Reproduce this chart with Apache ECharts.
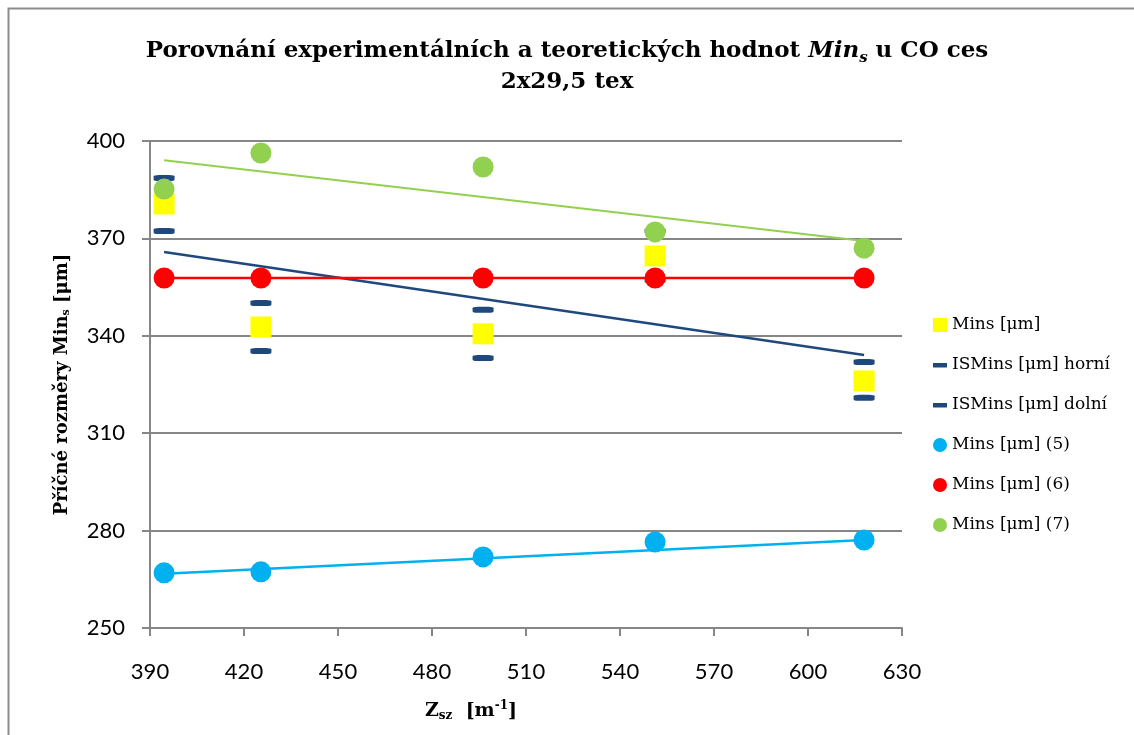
<!DOCTYPE html>
<html>
<head>
<meta charset="utf-8">
<script src="https://cdn.jsdelivr.net/npm/echarts@6/dist/echarts.min.js"></script>
<style>
  html, body { margin: 0; padding: 0; background: #fff; }
  #chart { width: 1134px; height: 735px; }
</style>
</head>
<body>
<div id="chart"></div>
<script>
// hodnoty
const zsz = [394.5, 425.4, 496.3, 551.2, 617.9];
const mins = [380.6, 342.7, 340.6, 364.6, 326.1];
const isMinsHorni = [388.6, 350.1, 348.0, 372.3, 331.9];
const isMinsDolni = [372.3, 335.3, 333.2, 357.2, 320.9];
const mins5 = [267.0, 267.3, 271.9, 276.5, 277.1];
const mins6 = [357.8, 357.8, 357.8, 357.8, 357.8];
const mins7 = [385.2, 396.3, 392.0, 372.0, 367.0];

// spojnice trendu (koncové body)
const trendX = [394.5, 617.9];
const trendMins = [365.8, 334.1];
const trendMins5 = [266.7, 277.1];
const trendMins7 = [394.1, 369.2];

const legendNames = ['Mins [μm]', 'ISMins [μm] horní', 'ISMins [μm] dolní',
    'Mins [μm] (5)', 'Mins [μm] (6)', 'Mins [μm] (7)'];

function pairs(xs, ys) {
    return xs.map(function (x, i) { return [x, ys[i]]; });
}

const serifFont = '"DejaVu Serif", "Liberation Serif", serif';
const sansFont = 'Lato, "Open Sans", sans-serif';
const dashIcon = 'path://M0,0 M0,5h14v4.5h-14z M14,14';

let myChart = echarts.init(document.getElementById('chart'));
let option = {
    animation: false,
    title: {
        text: '{b|Porovnání experimentálních a teoretických hodnot }{i|Min}{sub|s}{b| u CO ces}\n{b|2x29,5 tex}',
        left: 'center',
        top: 31,
        textStyle: {
            rich: {
                b: { fontFamily: serifFont, fontWeight: 'bold', fontSize: 23, color: '#000', lineHeight: 31 },
                i: { fontFamily: serifFont, fontWeight: 'bold', fontStyle: 'italic', fontSize: 23, color: '#000', lineHeight: 31 },
                sub: { fontFamily: serifFont, fontWeight: 'bold', fontStyle: 'italic', fontSize: 15, color: '#000', padding: [14, 0, 0, 0], lineHeight: 31 }
            }
        }
    },
    graphic: [{
        type: 'rect',
        shape: { x: 8.5, y: 8.5, width: 1300, height: 900 },
        style: { fill: null, stroke: '#8c8c8c', lineWidth: 2 },
        silent: true
    }],
    legend: {
        orient: 'vertical',
        left: 928,
        top: 310,
        itemGap: 20,
        itemWidth: 14,
        itemHeight: 14,
        textStyle: { fontFamily: serifFont, fontSize: 17, color: '#000', lineHeight: 20 },
        data: [
            { name: legendNames[0], icon: 'rect' },
            { name: legendNames[1], icon: dashIcon },
            { name: legendNames[2], icon: dashIcon },
            { name: legendNames[3], icon: 'circle' },
            { name: legendNames[4], icon: 'circle' },
            { name: legendNames[5], icon: 'circle' }
        ]
    },
    grid: { left: 150, right: 232, top: 141, bottom: 107 },
    xAxis: {
        type: 'value',
        min: 390, max: 630, interval: 30,
        name: '{b|Z}{sub|sz}{b|  [m}{sup|-1}{b|]}',
        nameLocation: 'middle',
        nameGap: 72,
        nameTextStyle: {
            padding: [0, 110, 0, 0],
            rich: {
                b: { fontFamily: serifFont, fontWeight: 'bold', fontSize: 19, color: '#000' },
                sub: { fontFamily: serifFont, fontWeight: 'bold', fontSize: 12, color: '#000', padding: [10, 0, 0, 0] },
                sup: { fontFamily: serifFont, fontWeight: 'bold', fontSize: 12, color: '#000', padding: [0, 0, 10, 0] }
            }
        },
        axisLine: { lineStyle: { color: '#868686', width: 2 } },
        axisTick: { show: true, length: 8, lineStyle: { color: '#868686', width: 2 } },
        axisLabel: { margin: 33, fontFamily: sansFont, fontSize: 22, color: '#000' },
        splitLine: { show: false }
    },
    yAxis: {
        type: 'value',
        min: 250, max: 400, interval: 30,
        name: '{b|Příčné rozměry Min}{sub|s}{b| [μm]}',
        nameLocation: 'middle',
        nameGap: 78,
        nameTextStyle: {
            rich: {
                b: { fontFamily: serifFont, fontWeight: 'bold', fontSize: 18, color: '#000' },
                sub: { fontFamily: serifFont, fontWeight: 'bold', fontSize: 11, color: '#000', padding: [8, 0, 0, 0] }
            }
        },
        axisLine: { show: true, lineStyle: { color: '#868686', width: 2 } },
        axisTick: { show: true, length: 8, lineStyle: { color: '#868686', width: 2 } },
        axisLabel: { margin: 25, fontFamily: sansFont, fontSize: 22, color: '#000' },
        splitLine: { show: true, lineStyle: { color: '#868686', width: 2 } }
    },
    series: [
        {
            name: 'trend-mins', type: 'line', data: pairs(trendX, trendMins),
            symbol: 'none', lineStyle: { color: '#1F497D', width: 2.5 }, z: 1, silent: true
        },
        {
            name: 'trend-5', type: 'line', data: pairs(trendX, trendMins5),
            symbol: 'none', lineStyle: { color: '#00B0F0', width: 2.5 }, z: 1, silent: true
        },
        {
            name: 'trend-7', type: 'line', data: pairs(trendX, trendMins7),
            symbol: 'none', lineStyle: { color: '#92D050', width: 2 }, z: 1, silent: true
        },
        {
            name: legendNames[0], type: 'scatter', data: pairs(zsz, mins),
            symbol: 'rect', symbolSize: 21, itemStyle: { color: '#FFFF00', opacity: 1 }, z: 2
        },
        {
            name: legendNames[1], type: 'scatter', data: pairs(zsz, isMinsHorni),
            symbol: 'roundRect', symbolSize: [21, 6], itemStyle: { color: '#1F497D', opacity: 1 }, z: 3
        },
        {
            name: legendNames[2], type: 'scatter', data: pairs(zsz, isMinsDolni),
            symbol: 'roundRect', symbolSize: [21, 6], itemStyle: { color: '#1F497D', opacity: 1 }, z: 3
        },
        {
            name: legendNames[3], type: 'scatter', data: pairs(zsz, mins5),
            symbol: 'circle', symbolSize: 21, itemStyle: { color: '#00B0F0', opacity: 1 }, z: 4
        },
        {
            name: legendNames[4], type: 'line', data: pairs(zsz, mins6),
            symbol: 'circle', symbolSize: 21, showSymbol: true,
            lineStyle: { color: '#FF0000', width: 2.5 }, itemStyle: { color: '#FF0000', opacity: 1 }, z: 4
        },
        {
            name: legendNames[5], type: 'scatter', data: pairs(zsz, mins7),
            symbol: 'circle', symbolSize: 21, itemStyle: { color: '#92D050', opacity: 1 }, z: 5
        }
    ]
};
myChart.setOption(option);
</script>
</body>
</html>
